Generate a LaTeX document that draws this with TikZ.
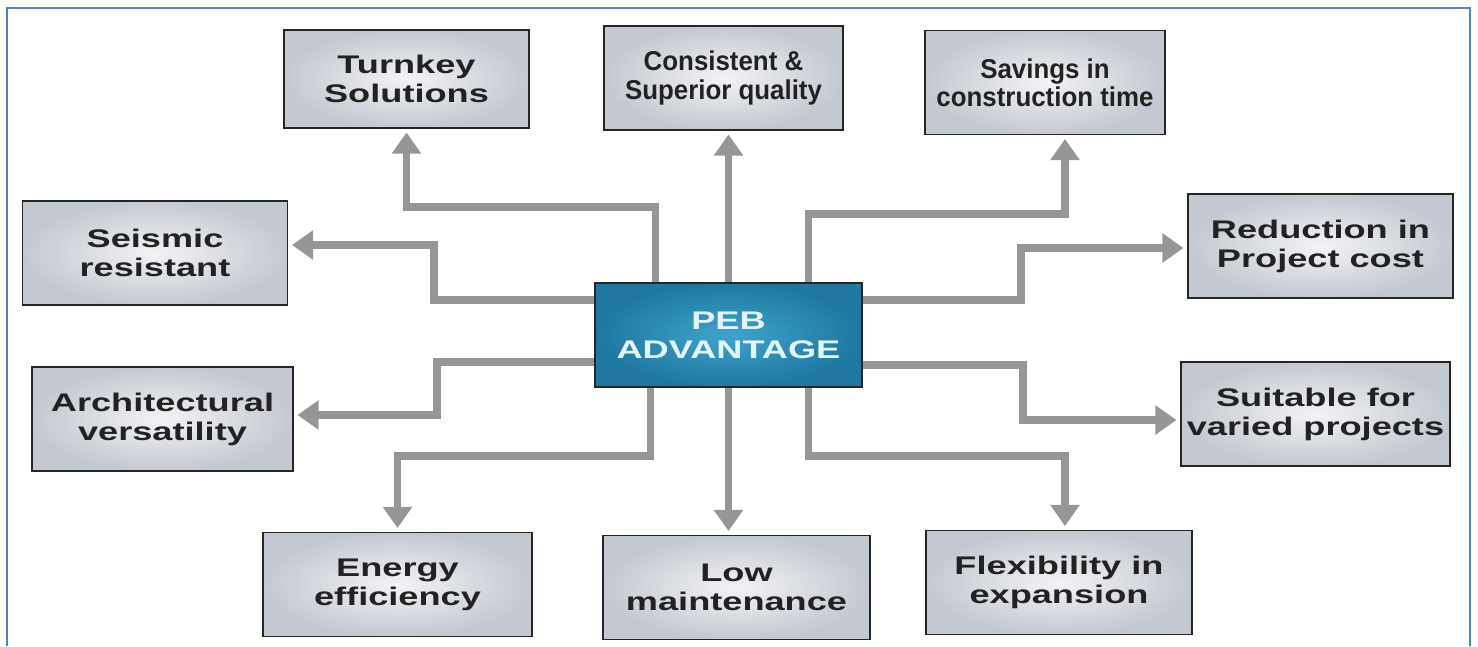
\documentclass[tikz,border=0pt]{standalone}
\usepackage{fontspec}
\setmainfont{Liberation Sans}
\newfontfamily\widefont{Liberation Sans}[FakeStretch=1.42]
\newfontfamily\narrowfont{Liberation Sans}[FakeStretch=0.95]
\usepackage{xcolor}
\usepackage{tikz}
\usetikzlibrary{calc,arrows.meta,positioning}
\definecolor{boxin}{RGB}{242,243,245}
\definecolor{boxout}{RGB}{196,200,208}
\definecolor{pebin}{RGB}{62,164,204}
\definecolor{pebout}{RGB}{30,120,160}
\definecolor{flowgray}{RGB}{150,150,150}
\definecolor{framecol}{RGB}{84,130,196}
\definecolor{txt}{RGB}{34,34,34}
\tikzset{
  advbox/.style={draw=black!85, line width=1.1pt, inner color=boxin, outer color=boxout, align=center, text=txt,
      minimum width=5.3cm, minimum height=2.08cm, font=\widefont\bfseries\fontsize{14.5}{16.6}\selectfont},
  narrowbox/.style={advbox, font=\narrowfont\bfseries\fontsize{15.5}{16}\selectfont},
  pebbox/.style={draw=black!85, line width=1.1pt, inner color=pebin, outer color=pebout, align=center,
      text={rgb,255:red,226;green,244;blue,250}, minimum width=5.34cm, minimum height=2.08cm,
      font=\widefont\bfseries\fontsize{14.5}{16.6}\selectfont},
  flow/.style={draw=flowgray, line width=4.3pt, -{Triangle[width=16pt,length=12pt]}, shorten >=2pt}
}

\begin{document}
\begin{tikzpicture}[x=0.02cm, y=-0.02cm]
  \useasboundingbox (0,0) rectangle (1478,646);
  \draw[framecol, line width=1.2pt] (7,646) -- (7,8) -- (1470,8) -- (1470,646);

  % centre
  \node[pebbox] (peb) at (728.5,335) {PEB\\ADVANTAGE};

  % top row
  \node[advbox, minimum width=4.9cm, minimum height=1.96cm] (turnkey) at (406.5,79) {Turnkey\\Solutions};
  \node[narrowbox, minimum width=4.78cm] (consistent) at (723.5,78) {Consistent \&\\Superior quality};
  \node[narrowbox, minimum width=4.8cm] (savings) at (1045,82.5) {Savings in\\construction time};

  % sides
  \node[advbox] (seismic) at (155,253) {Seismic\\resistant};
  \node[advbox] (reduction) at (1320.5,246) {Reduction in\\Project cost};
  \node[advbox, minimum width=5.22cm] (archi) at (162.5,419) {Architectural\\versatility};
  \node[advbox, minimum width=5.22cm] (suitable) at (1315.5,414) {Suitable for\\varied projects};

  % bottom row
  \node[advbox, minimum width=5.38cm] (energy) at (397.5,584.5) {Energy\\efficiency};
  \node[advbox, minimum width=5.34cm] (lowmaint) at (736.5,587.5) {Low\\maintenance};
  \node[advbox, minimum width=5.32cm] (flex) at (1059,582.5) {Flexibility in\\expansion};

  % connectors
  \draw[flow] ($(peb.north)+(-73,0)$) -- ++(0,-75) -| (turnkey.south);
  \draw[flow] (peb.north) -- (peb.north |- consistent.south);
  \draw[flow] ($(peb.north)+(80,0)$) -- ++(0,-68) -| ($(savings.south)+(20,0)$);
  \draw[flow] ($(peb.west)+(0,-35)$) -- ++(-160,0) |- ($(seismic.east)+(0,-8)$);
  \draw[flow] ($(peb.east)+(0,-35)$) -- ++(158,0) |- ($(reduction.west)+(0,2)$);
  \draw[flow] ($(peb.west)+(0,27)$) -- ++(-157,0) |- ($(archi.east)+(0,-4)$);
  \draw[flow] ($(peb.east)+(0,30)$) -- ++(160,0) |- ($(suitable.west)+(0,6)$);
  \draw[flow] ($(peb.south)+(-78,0)$) -- ++(0,68) -| (energy.north);
  \draw[flow] (peb.south) -- (peb.south |- lowmaint.north);
  \draw[flow] ($(peb.south)+(80,0)$) -- ++(0,68) -| ($(flex.north)+(6,0)$);
\end{tikzpicture}
\end{document}
